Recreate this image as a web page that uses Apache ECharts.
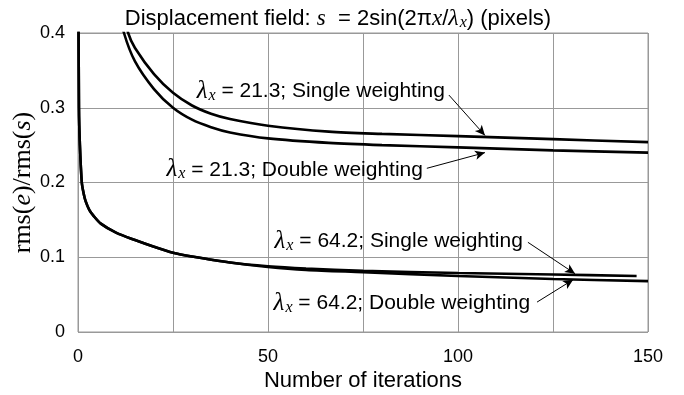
<!DOCTYPE html>
<html>
<head>
<meta charset="utf-8">
<script src="https://cdn.jsdelivr.net/npm/echarts@6/dist/echarts.min.js"></script>
<style>html,body{margin:0;padding:0;background:#fff}#c{width:684px;height:395px}</style>
</head>
<body>
<div id="c"></div>
<script>
// ---- data ----
const xTicks = [0, 50, 100, 150];
const yTicks = [0, 0.1, 0.2, 0.3, 0.4];

const iter21Single = [12, 13.2, 15, 20, 25, 30, 35, 40, 50, 66, 80, 100, 125, 150];
const val21Single  = [0.43, 0.40, 0.38, 0.345, 0.32, 0.303, 0.292, 0.285, 0.276, 0.268, 0.265, 0.262, 0.258, 0.254];

const iter21Double = [11, 12.1, 15, 20, 25, 30, 35, 40, 50, 66, 80, 100, 125, 150];
const val21Double  = [0.43, 0.40, 0.362, 0.325, 0.30, 0.284, 0.274, 0.267, 0.259, 0.253, 0.250, 0.247, 0.243, 0.240];

const iter64Single = [0, 0.25, 0.5, 1, 1.5, 2, 3, 4, 6, 10, 15, 20, 25, 30, 40, 50, 60, 75, 100, 125, 147];
const val64Single  = [0.6, 0.3, 0.25, 0.2, 0.185, 0.175, 0.163, 0.156, 0.145, 0.133, 0.123, 0.114, 0.106, 0.101, 0.093, 0.088, 0.085, 0.082, 0.079, 0.077, 0.075];

const iter64Double = [0, 0.25, 0.5, 1, 1.5, 2, 3, 4, 6, 10, 15, 20, 25, 30, 40, 50, 60, 75, 100, 125, 150];
const val64Double  = [0.6, 0.3, 0.25, 0.2, 0.185, 0.175, 0.163, 0.156, 0.145, 0.133, 0.123, 0.114, 0.106, 0.101, 0.093, 0.087, 0.083, 0.080, 0.075, 0.071, 0.068];

// annotation labels: lambda value, weighting, label anchor (right end), arrow start, arrow tip
const annLambda  = ['21.3', '21.3', '64.2', '64.2'];
const annWeight  = ['Single', 'Double', 'Single', 'Double'];
const annLabelAt = [[97.1, 0.322], [91.3, 0.217], [117.6, 0.121], [119.5, 0.038]];
const annFrom    = [[97.6, 0.317], [91.8, 0.219], [118.4, 0.120], [120.8, 0.040]];
const annTo      = [[107.1, 0.263], [107.1, 0.240], [130.8, 0.078], [130.3, 0.070]];

// ---- chart ----
const zip = (xs, ys) => xs.map((x, i) => [x, ys[i]]);
const serif = 'Liberation Serif';
const sans = 'Liberation Sans';

const labelRich = {
  l: {fontFamily: serif, fontStyle: 'italic', fontSize: 25, color: '#000'},
  sx: {fontFamily: serif, fontStyle: 'italic', fontSize: 16, color: '#000', verticalAlign: 'bottom', padding: [7, 0, 0, 1]},
  n: {fontFamily: sans, fontSize: 21, color: '#000'}
};

const markPts = annLabelAt.map((c, i) => ({
  coord: c,
  symbol: 'circle', symbolSize: 0,
  label: {
    show: true, position: 'left', distance: 2,
    formatter: '{l|λ}{sx|x}{n| = ' + annLambda[i] + '; ' + annWeight[i] + ' weighting}',
    rich: labelRich
  }
}));

const markLns = annFrom.map((f, i) => [{coord: f}, {coord: annTo[i]}]);

const lineBase = {
  type: 'line', showSymbol: false, symbol: 'none', smooth: 0.3,
  clip: true, lineStyle: {color: '#000', width: 2.6}, itemStyle: {color: '#000'},
  silent: true, animation: false
};

const chart = echarts.init(document.getElementById('c'), null, {renderer: 'canvas'});
chart.setOption({
  animation: false,
  backgroundColor: '#fff',
  title: {
    text: '{n|Displacement field: }{i|s}{n|  = 2sin(2π}{i|x}{n|/}{l|λ}{sx|x}{n|) (pixels)}',
    left: 333, top: 2, textAlign: 'center',
    textStyle: {
      fontWeight: 'normal',
      rich: {
        n: {fontFamily: sans, fontSize: 22, fontWeight: 'normal', color: '#000'},
        i: {fontFamily: serif, fontStyle: 'italic', fontWeight: 'normal', fontSize: 23, color: '#000'},
        l: {fontFamily: serif, fontStyle: 'italic', fontWeight: 'normal', fontSize: 24, color: '#000'},
        sx: {fontFamily: serif, fontStyle: 'italic', fontWeight: 'normal', fontSize: 16, color: '#000', verticalAlign: 'bottom', padding: [7, 0, 0, 1]}
      }
    }
  },
  grid: {left: 78, right: 36, top: 33, bottom: 63, containLabel: false, outerBoundsMode: 'none',
         show: true, borderColor: '#999', borderWidth: 1},
  xAxis: {
    type: 'value', min: 0, max: 150, interval: 25,
    axisLine: {show: false}, axisTick: {show: false},
    splitLine: {show: true, lineStyle: {color: '#999', width: 1}},
    axisLabel: {
      margin: 16, fontFamily: sans, fontSize: 18, color: '#000',
      formatter: v => (xTicks.indexOf(v) >= 0 ? String(v) : '')
    },
    name: 'Number of iterations', nameLocation: 'middle', nameGap: 38, nameMoveOverlap: false,
    nameTextStyle: {fontFamily: sans, fontSize: 22, color: '#000'}
  },
  yAxis: {
    type: 'value', min: 0, max: 0.4, interval: 0.1,
    axisLine: {show: false}, axisTick: {show: false},
    splitLine: {show: true, lineStyle: {color: '#999', width: 1}},
    axisLabel: {
      margin: 13, fontFamily: sans, fontSize: 18, color: '#000',
      formatter: v => {
        const t = yTicks.find(y => Math.abs(y - v) < 1e-9);
        return t === undefined ? '' : String(t);
      }
    },
    name: '{n|rms(}{i|e}{n|)/rms(}{i|s}{n|)}', nameLocation: 'middle', nameGap: 42, nameRotate: 90,
    nameMoveOverlap: false,
    nameTextStyle: {
      rich: {
        n: {fontFamily: serif, fontSize: 26, color: '#000'},
        i: {fontFamily: serif, fontStyle: 'italic', fontSize: 26, color: '#000'}
      }
    }
  },
  series: [
    Object.assign({}, lineBase, {
      name: 'λx = 21.3; Single weighting', data: zip(iter21Single, val21Single),
      markPoint: {silent: true, animation: false, data: markPts},
      markLine: {
        silent: true, animation: false, symbol: ['none', 'arrow'], symbolSize: [7, 10],
        lineStyle: {color: '#000', width: 1, type: 'solid'}, label: {show: false},
        data: markLns
      }
    }),
    Object.assign({}, lineBase, {name: 'λx = 21.3; Double weighting', data: zip(iter21Double, val21Double)}),
    Object.assign({}, lineBase, {name: 'λx = 64.2; Single weighting', data: zip(iter64Single, val64Single)}),
    Object.assign({}, lineBase, {name: 'λx = 64.2; Double weighting', data: zip(iter64Double, val64Double)})
  ]
});
</script>
</body>
</html>
